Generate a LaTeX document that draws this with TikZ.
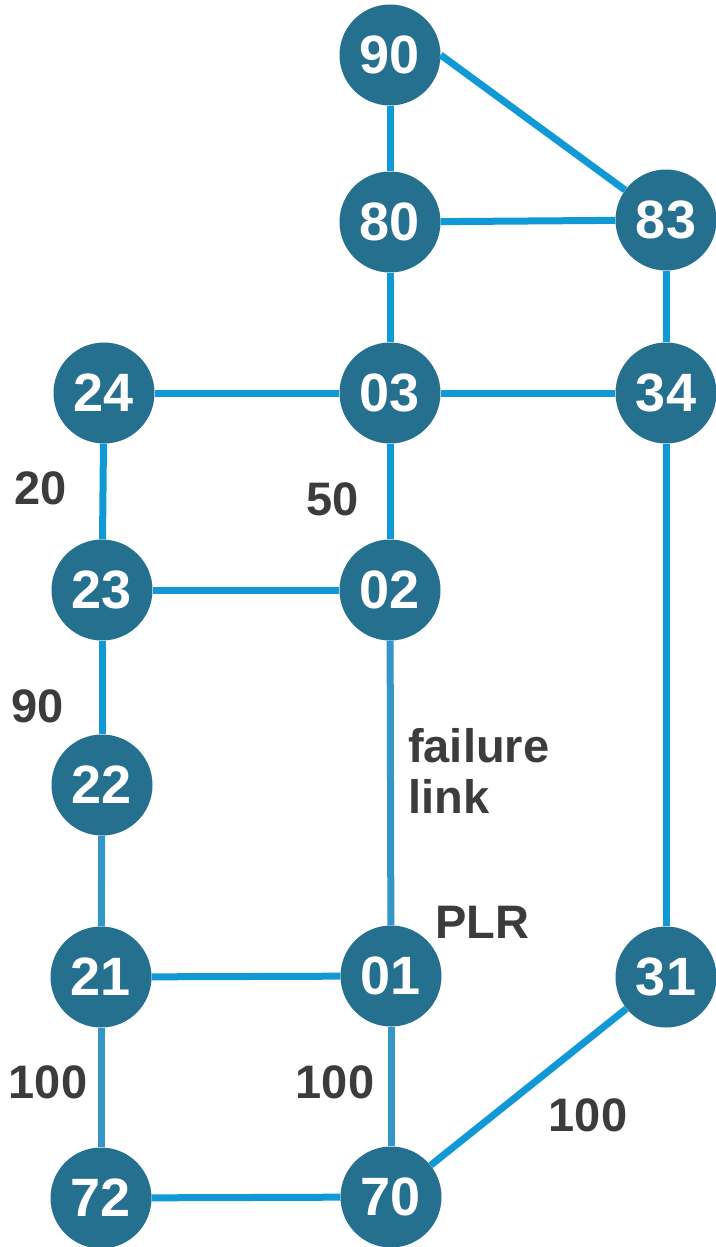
\documentclass[tikz,border=0pt]{standalone}
\usepackage{fontspec}
\setmainfont{Liberation Sans}
\definecolor{nodefill}{HTML}{26708F}
\definecolor{edgeA}{HTML}{1199D6}
\definecolor{edgeB}{HTML}{3396C6}
\definecolor{labelc}{HTML}{3C3C3C}
\tikzset{
  router/.style={circle, fill=nodefill, text=white, minimum size=101pt, inner sep=0pt,
    font=\fontsize{54}{54}\selectfont\bfseries},
  link/.style={draw=edgeA, line width=7pt},
  linkb/.style={draw=edgeB, line width=7pt},
  lbl/.style={text=labelc, inner sep=0pt, font=\fontsize{47}{51}\selectfont\bfseries}
}
\begin{document}
\begin{tikzpicture}[x=1pt,y=-1pt]
\useasboundingbox (0,0) rectangle (715,1247);
% nodes
\node[router] (n90) at (390,55) {90};
\node[router] (n80) at (390,222) {80};
\node[router] (n83) at (666,220) {83};
\node[router] (n24) at (104,393) {24};
\node[router] (n03) at (390,393) {03};
\node[router] (n34) at (666,393) {34};
\node[router] (n23) at (102,590) {23};
\node[router] (n02) at (390,590) {02};
\node[router] (n22) at (102,785) {22};
\node[router] (n21) at (101,977) {21};
\node[router] (n01) at (391,976) {01};
\node[router] (n31) at (666,977) {31};
\node[router] (n72) at (101,1198) {72};
\node[router] (n70) at (391,1197) {70};
% edges
\draw[link] (n90) -- (n80);
\draw[link] (n90.east) -- (n83);
\draw[link] (n80) -- (n83);
\draw[link] (n80) -- (n03);
\draw[link] (n83) -- (n34);
\draw[link] (n24) -- (n03);
\draw[link] (n03) -- (n34);
\draw[link] (n24) -- (n23);
\draw[link] (n03) -- (n02);
\draw[link] (n23) -- (n02);
\draw[link] (n23) -- (n22);
\draw[link] (n34) -- (n31);
\draw[linkb] (n22) -- (n21);
\draw[linkb] (n02) -- (n01);
\draw[link] (n21) -- (n01);
\draw[linkb] (n21) -- (n72);
\draw[linkb] (n01) -- (n70);
\draw[link] (n72) -- (n70);
\draw[link] (n31) -- (n70);
% labels
\node[lbl] (l20) at (41,488) {20};
\node[lbl] (l50) at (333,499) {50};
\node[lbl] (l90) at (38,706) {90};
\node[lbl, align=left, anchor=north west] (lfail) at (408,728) {failure\\link};
\node[lbl] (lplr) at (482,922) {PLR};
\node[lbl] (l100a) at (48,1082) {100};
\node[lbl] (l100b) at (335,1082) {100};
\node[lbl] (l100c) at (588,1115) {100};
\end{tikzpicture}
\end{document}
